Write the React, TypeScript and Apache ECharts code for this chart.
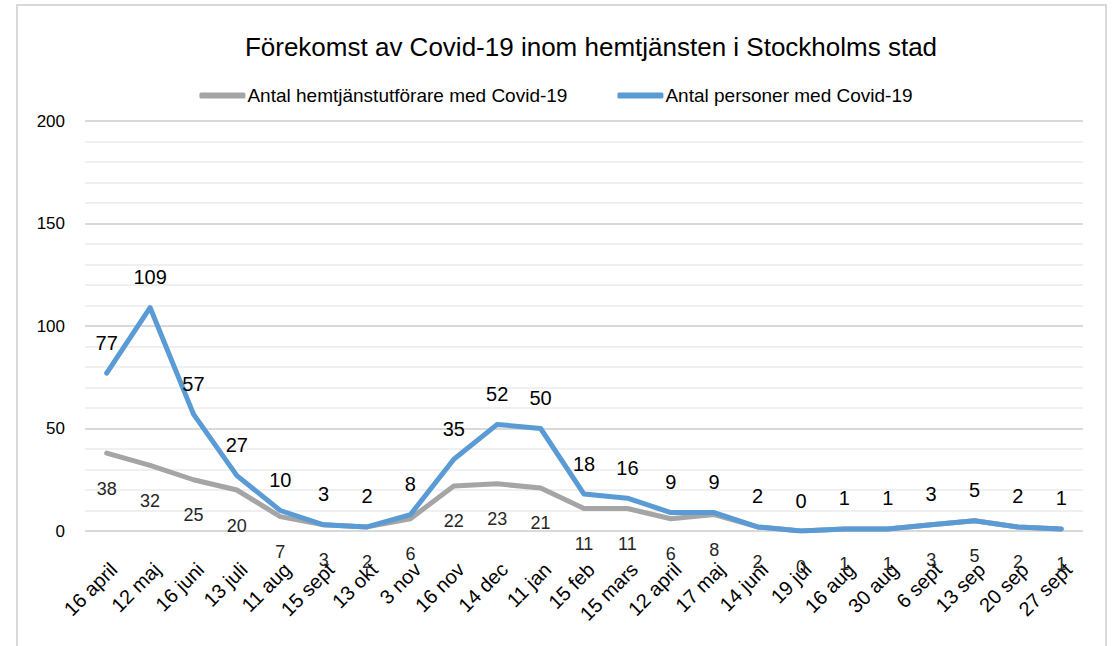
import React, { useEffect, useRef } from "react";
import * as echarts from "echarts";

const categories = [
  "16 april", "12 maj", "16 juni", "13 juli", "11 aug", "15 sept", "13 okt", "3 nov",
  "16 nov", "14 dec", "11 jan", "15 feb", "15 mars", "12 april", "17 maj", "14 juni",
  "19 jul", "16 aug", "30 aug", "6 sept", "13 sep", "20 sep", "27 sept",
];
const utforare = [38, 32, 25, 20, 7, 3, 2, 6, 22, 23, 21, 11, 11, 6, 8, 2, 0, 1, 1, 3, 5, 2, 1];
const personer = [77, 109, 57, 27, 10, 3, 2, 8, 35, 52, 50, 18, 16, 9, 9, 2, 0, 1, 1, 3, 5, 2, 1];
const seriesNames = ["Antal hemtjänstutförare med Covid-19", "Antal personer med Covid-19"];
const titleText = "Förekomst av Covid-19 inom hemtjänsten i Stockholms stad";

const FONT = "'Liberation Sans Narrow', 'Arial Narrow', 'Liberation Sans', sans-serif";

export default function App() {
  const ref = useRef<HTMLDivElement>(null);
  useEffect(() => {
    document.body.style.margin = "0";
    const chart = echarts.init(ref.current!, undefined, { renderer: "svg" });
    chart.setOption({
      animation: false,
      backgroundColor: "#ffffff",
      textStyle: { fontFamily: FONT },
      graphic: [
        {
          type: "rect",
          shape: { x: 17, y: 5, width: 1089, height: 660 },
          style: { fill: "none", stroke: "#d9d9d9", lineWidth: 2 },
          silent: true,
        },
      ],
      title: {
        text: titleText,
        left: 586,
        textAlign: "center",
        top: 29,
        textStyle: { fontFamily: FONT, fontSize: 26, fontWeight: "normal", color: "#000" },
      },
      legend: {
        top: 81,
        left: "center",
        itemWidth: 46,
        itemHeight: 6,
        itemGap: 50,
        icon: "roundRect",
        padding: [5, 0, 5, 34],
        textStyle: { fontFamily: FONT, fontSize: 19, color: "#000", padding: [0, 0, 0, -3] },
        data: seriesNames,
      },
      grid: { left: 85, right: 29, top: 121, bottom: 115, containLabel: false },
      xAxis: {
        type: "category",
        data: categories,
        boundaryGap: true,
        axisLine: { show: false },
        axisTick: { show: false },
        axisLabel: {
          rotate: 45,
          interval: 0,
          margin: 28,
          verticalAlign: "top",
          fontFamily: FONT,
          fontSize: 20,
          color: "#000",
        },
      },
      yAxis: {
        type: "value",
        min: 0,
        max: 200,
        interval: 10,
        axisLine: { show: false },
        axisTick: { show: false },
        axisLabel: {
          fontFamily: FONT,
          fontSize: 17,
          color: "#000",
          margin: 20,
          formatter: (v: number) => (v % 50 === 0 ? String(v) : ""),
        },
        splitLine: {
          lineStyle: {
            width: 2,
            color: ["#d9d9d9", "#f0f0f0", "#f0f0f0", "#f0f0f0", "#f0f0f0"],
          },
        },
      },
      series: [
        {
          name: seriesNames[0],
          type: "line",
          data: utforare,
          symbol: "circle",
          symbolSize: 1,
          showSymbol: true,
          itemStyle: { color: "#a5a5a5" },
          color: "#a5a5a5",
          lineStyle: { color: "#a5a5a5", width: 5, cap: "round", join: "round" },
          label: {
            show: true,
            position: "bottom",
            distance: 26,
            fontFamily: FONT,
            fontSize: 18,
            color: "#262626",
          },
          z: 2,
        },
        {
          name: seriesNames[1],
          type: "line",
          data: personer,
          symbol: "circle",
          symbolSize: 1,
          showSymbol: true,
          itemStyle: { color: "#5b9bd5" },
          color: "#5b9bd5",
          lineStyle: { color: "#5b9bd5", width: 5, cap: "round", join: "round" },
          label: {
            show: true,
            position: "top",
            distance: 20,
            fontFamily: FONT,
            fontSize: 20,
            color: "#000",
          },
          z: 3,
        },
      ],
    });
    return () => chart.dispose();
  }, []);
  return <div ref={ref} style={{ width: 1112, height: 646 }} />;
}
